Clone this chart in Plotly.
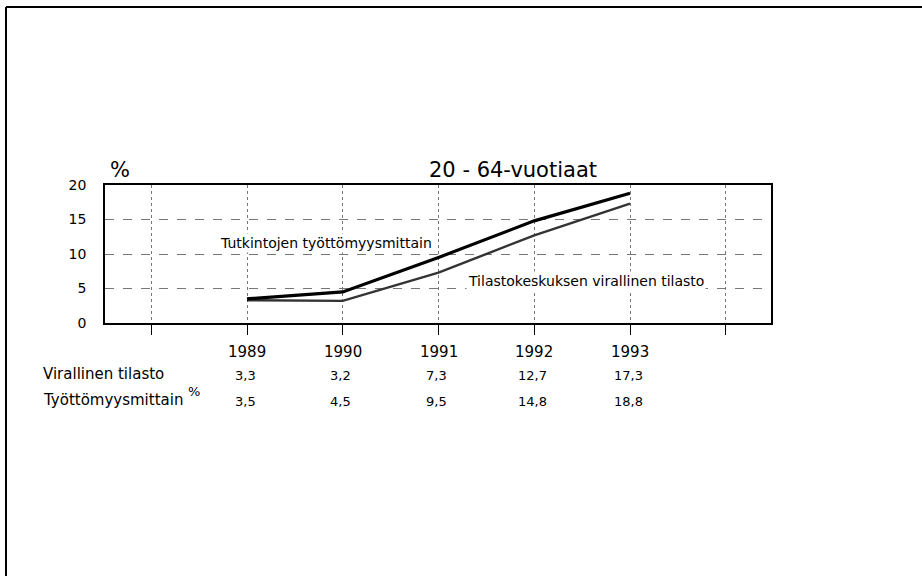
import plotly.graph_objects as go

years = [1989, 1990, 1991, 1992, 1993]
virallinen = [3.3, 3.2, 7.3, 12.7, 17.3]
tyottomyys = [3.5, 4.5, 9.5, 14.8, 18.8]
virallinen_txt = ["3,3", "3,2", "7,3", "12,7", "17,3"]
tyottomyys_txt = ["3,5", "4,5", "9,5", "14,8", "18,8"]
tick_years = [1988, 1989, 1990, 1991, 1992, 1993, 1994]
y_ticks = [0, 5, 10, 15, 20]

FONT = "DejaVu Sans"
W, H = 922, 576
L, R, T, B = 105, 771, 185, 323  # plot area in pixels


def px_x(p):
    return (p - L) / (R - L)


def px_y(p):
    return (B - p) / (B - T)


fig = go.Figure()
fig.add_trace(go.Scatter(x=years, y=virallinen, mode="lines",
                         line=dict(color="#333333", width=2.4),
                         name="Virallinen tilasto", showlegend=False))
fig.add_trace(go.Scatter(x=years, y=tyottomyys, mode="lines",
                         line=dict(color="black", width=3.2),
                         name="Työttömyysmittain", showlegend=False))

ann = []
ann.append(dict(text="%", x=px_x(108), y=px_y(170), xref="paper", yref="paper",
                xanchor="left", yanchor="middle", showarrow=False,
                font=dict(family=FONT, size=21, color="black")))
ann.append(dict(text="20 - 64-vuotiaat", x=px_x(513), y=px_y(170), xref="paper", yref="paper",
                xanchor="center", yanchor="middle", showarrow=False,
                font=dict(family=FONT, size=21, color="black")))
ann.append(dict(text="Tutkintojen työttömyysmittain", x=1988.70, y=11.6, xref="x", yref="y",
                xanchor="left", yanchor="middle", showarrow=False, bgcolor="white",
                font=dict(family=FONT, size=14, color="black")))
ann.append(dict(text="Tilastokeskuksen virallinen tilasto", x=1991.29, y=6.1, xref="x", yref="y",
                xanchor="left", yanchor="middle", showarrow=False, bgcolor="white",
                font=dict(family=FONT, size=14, color="black")))
for yr, v1, v2 in zip(years, virallinen_txt, tyottomyys_txt):
    ann.append(dict(text=str(yr), x=yr, y=px_y(352), xref="x", yref="paper",
                    xanchor="center", yanchor="middle", showarrow=False,
                    font=dict(family=FONT, size=15, color="black")))
    ann.append(dict(text=v1, x=yr - 0.02, y=px_y(375), xref="x", yref="paper",
                    xanchor="center", yanchor="middle", showarrow=False,
                    font=dict(family=FONT, size=13, color="black")))
    ann.append(dict(text=v2, x=yr - 0.02, y=px_y(401), xref="x", yref="paper",
                    xanchor="center", yanchor="middle", showarrow=False,
                    font=dict(family=FONT, size=13, color="black")))
ann.append(dict(text="Virallinen tilasto", x=px_x(41), y=px_y(374), xref="paper", yref="paper",
                xanchor="left", yanchor="middle", showarrow=False,
                font=dict(family=FONT, size=15, color="black")))
ann.append(dict(text="Työttömyysmittain", x=px_x(41), y=px_y(400), xref="paper", yref="paper",
                xanchor="left", yanchor="middle", showarrow=False,
                font=dict(family=FONT, size=15, color="black")))
ann.append(dict(text="%", x=px_x(186), y=px_y(391), xref="paper", yref="paper",
                xanchor="left", yanchor="middle", showarrow=False,
                font=dict(family=FONT, size=13, color="black")))

shapes = [
    dict(type="line", xref="paper", yref="paper", x0=px_x(6), x1=px_x(922),
         y0=px_y(7), y1=px_y(7), line=dict(color="black", width=2)),
    dict(type="line", xref="paper", yref="paper", x0=px_x(6), x1=px_x(6),
         y0=px_y(7), y1=px_y(576), line=dict(color="black", width=2)),
]

x0 = 1989 - (247 - L) / 95.75
x1 = 1989 + (R - 247) / 95.75

fig.update_layout(
    width=W, height=H,
    margin=dict(l=L, r=W - R, t=T, b=H - B, pad=0),
    paper_bgcolor="white", plot_bgcolor="white",
    font=dict(family=FONT, size=14, color="black"),
    annotations=ann, shapes=shapes, showlegend=False,
)
fig.update_xaxes(range=[x0, x1], tickvals=tick_years, showticklabels=False,
                 ticks="outside", ticklen=10, tickwidth=1.3, tickcolor="black",
                 showgrid=True, gridcolor="#777", gridwidth=1, griddash="dot",
                 showline=True, linecolor="black", linewidth=1.5, mirror=True,
                 zeroline=False)
fig.update_yaxes(range=[0, 20], tickvals=y_ticks, ticks="", ticklabelstandoff=14,
                 tickfont=dict(family=FONT, size=14, color="black"),
                 showgrid=True, gridcolor="#777", gridwidth=1, griddash="dash",
                 showline=True, linecolor="black", linewidth=1.5, mirror=True,
                 zeroline=False)

fig.write_html("out.html", config={"displayModeBar": False},
               post_script="document.body.style.margin='0';")
